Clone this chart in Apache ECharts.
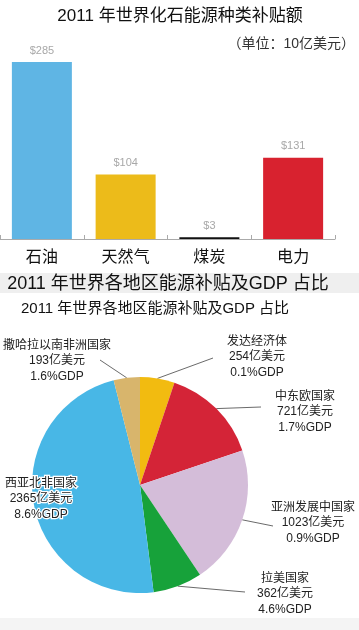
<!DOCTYPE html>
<html>
<head>
<meta charset="utf-8">
<script src="https://cdn.jsdelivr.net/npm/echarts@6/dist/echarts.min.js"></script>
<style>
html,body{margin:0;padding:0;background:#fff;}
#c{width:359px;height:630px;}
</style>
</head>
<body>
<div id="c"></div>
<script>
// ---- data ----
const fuelCategories = ['石油', '天然气', '煤炭', '电力'];
const fuelSubsidy = [285, 104, 3, 131]; // 10亿美元
const regionNames = ['发达经济体', '中东欧国家', '亚洲发展中国家', '拉美国家', '西亚北非国家', '撒哈拉以南非洲国家'];
const regionSubsidy = [254, 721, 1023, 362, 2365, 193]; // 亿美元
const regionGdpShare = ['0.1%', '1.7%', '0.9%', '4.6%', '8.6%', '1.6%'];

// ---- styles / layout ----
const FONT = '"Liberation Sans", "Noto Sans CJK SC", sans-serif';
const barColors = ['#5fb5e4', '#ecbb1a', '#111111', '#d8222f'];
const pieColors = ['#f2bb10', '#d42437', '#d4bdd9', '#17a23a', '#48b7e6', '#d8b56c'];
// label anchor positions (centre of the 3-line text block) and leader line end points
const labelPos = [
  {x: 257, y: 357, lx: 213, ly: 358},
  {x: 305, y: 412, lx: 261, ly: 407},
  {x: 313, y: 523, lx: 273, ly: 526},
  {x: 285, y: 594, lx: 245, ly: 592},
  {x: 41, y: 499, lx: null, ly: null},
  {x: 57, y: 361, lx: 100, ly: 360}
];

const chart = echarts.init(document.getElementById('c'), null, {renderer: 'canvas'});

const option = {
  backgroundColor: '#ffffff',
  animation: false,
  textStyle: {fontFamily: FONT},
  graphic: [
    {type: 'rect', left: 0, top: 273, shape: {width: 359, height: 20}, style: {fill: '#efefef'}, z: -10},
    {type: 'rect', left: 0, top: 618, shape: {width: 359, height: 12}, style: {fill: '#f4f4f4'}, z: -10},
    {type: 'text', x: 180, y: 16, style: {text: '2011 年世界化石能源种类补贴额', font: '17px ' + FONT, fill: '#111', align: 'center', verticalAlign: 'middle'}},
    {type: 'text', x: 355, y: 44, style: {text: '（单位：10亿美元）', font: '14px ' + FONT, fill: '#333', align: 'right', verticalAlign: 'middle'}},
    {type: 'text', x: 168, y: 284, style: {text: '2011 年世界各地区能源补贴及GDP 占比', font: '18px ' + FONT, fill: '#111', align: 'center', verticalAlign: 'middle'}},
    {type: 'text', x: 155, y: 309, style: {text: '2011 年世界各地区能源补贴及GDP 占比', font: '15px ' + FONT, fill: '#111', align: 'center', verticalAlign: 'middle'}}
  ],
  grid: {left: 0, right: 24, top: 52.7, bottom: 391, containLabel: false},
  xAxis: {
    type: 'category',
    data: fuelCategories,
    boundaryGap: true,
    axisLine: {show: true, lineStyle: {color: '#aaaaaa', width: 1}},
    axisTick: {show: true, inside: true, length: 4, lineStyle: {color: '#aaaaaa'}},
    axisLabel: {color: '#111', fontSize: 16, margin: 11, fontFamily: FONT}
  },
  yAxis: {
    type: 'value', min: 0, max: 300, show: false,
    splitLine: {show: false}
  },
  series: [
    {
      type: 'bar',
      barWidth: 60,
      data: fuelSubsidy.map((v, i) => ({value: v, itemStyle: {color: barColors[i]}})),
      label: {
        show: true, position: 'top', distance: 6,
        formatter: p => '$' + p.value,
        color: '#a8a8a8', fontSize: 11, fontFamily: FONT
      }
    },
    {
      type: 'pie',
      center: [140, 485],
      radius: [0, 108],
      startAngle: 90,
      clockwise: true,
      avoidLabelOverlap: false,
      data: regionNames.map((n, i) => ({
        name: n, value: regionSubsidy[i],
        itemStyle: {color: pieColors[i]},
        labelLine: {show: labelPos[i].lx !== null},
        label: i === 4 ? {textBorderColor: '#ffffff', textBorderWidth: 2.5} : {}
      })),
      label: {
        show: true, position: 'outside',
        formatter: p => p.name + '\n' + p.value + '亿美元\n' + regionGdpShare[p.dataIndex] + 'GDP',
        color: '#222', fontSize: 12, lineHeight: 15.5, fontFamily: FONT, align: 'center'
      },
      labelLine: {show: true, length: 10, length2: 10, lineStyle: {color: '#444', width: 0.8}},
      labelLayout: function (params) {
        const lp = labelPos[params.dataIndex];
        const res = {x: lp.x, y: lp.y, align: 'center', verticalAlign: 'middle'};
        if (lp.lx !== null && params.labelLinePoints) {
          res.labelLinePoints = [params.labelLinePoints[0], [lp.lx, lp.ly]];
        }
        return res;
      }
    }
  ]
};
chart.setOption(option);
</script>
</body>
</html>
